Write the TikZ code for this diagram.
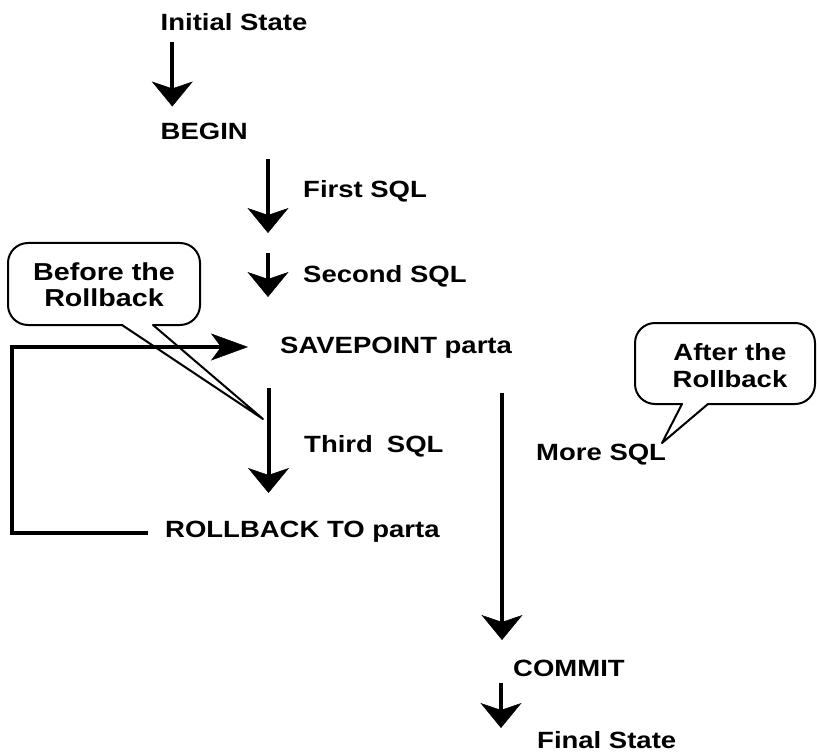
\documentclass[tikz,border=0pt]{standalone}
\usepackage{fontspec}
\newfontfamily\lbl{Liberation Sans}[FakeStretch=1.17]
\usetikzlibrary{arrows.meta}
\begin{document}
\begin{tikzpicture}[x=1pt,y=-1pt,
  lab/.style={anchor=base west,inner sep=0pt,font=\lbl\bfseries\fontsize{23.5}{27}\selectfont},
  ctext/.style={anchor=base,inner sep=0pt,align=center},
  varr/.style={line width=4pt,-{Stealth[length=25pt,width=41pt,inset=7pt,line width=0.5pt]}},
  harr/.style={line width=4pt,-{Stealth[length=37pt,width=27pt,inset=10pt,line width=0.5pt]}},
  loopline/.style={line width=4pt},
  callout/.style={line width=2pt,line join=round,line cap=round}]
\useasboundingbox (0,0) rectangle (817,754);
% labels
\node[lab] (init) at (160.5,31) {Initial State};
\node[lab] (begin) at (160.5,140) {BEGIN};
\node[lab] (first) at (303,198) {First SQL};
\node[lab] (second) at (303,283) {Second SQL};
\node[lab] (save) at (280,353) {SAVEPOINT parta};
\node[lab] (third) at (304,452.5) {Third\hspace*{14pt}SQL};
\node[lab] (rollback) at (165,537) {ROLLBACK TO parta};
\node[lab] (more) at (536,460) {More SQL};
\node[lab] (commit) at (513,676) {COMMIT};
\node[lab] (final) at (537,748) {Final State};
% arrow end points
\coordinate (a1s) at (172.3,41.7);  \coordinate (a1e) at (172.3,106.5);
\coordinate (a2s) at (268,159);     \coordinate (a2e) at (268,233);
\coordinate (a3s) at (268,253);     \coordinate (a3e) at (268,297);
\coordinate (a4s) at (268.5,388);   \coordinate (a4e) at (268.5,493);
\coordinate (a5s) at (502,393);     \coordinate (a5e) at (502,640);
\coordinate (a6s) at (501,683);     \coordinate (a6e) at (501,728);
\draw[varr] (a1s) -- (a1e);
\draw[varr] (a2s) -- (a2e);
\draw[varr] (a3s) -- (a3e);
\draw[varr] (a4s) -- (a4e);
\draw[varr] (a5s) -- (a5e);
\draw[varr] (a6s) -- (a6e);
% feedback loop
\coordinate (fbs) at (148,533);
\coordinate (fbe) at (248,347);
\draw[loopline] (fbs) -- (12,533) -- (12,347) -- (214,347);
\draw[harr] (200,347) -- (fbe);
% left callout
\coordinate (lcl) at (122,325);
\coordinate (lcr) at (153,325);
\coordinate (lct) at (263,419);
\draw[callout,rounded corners=20pt] (lcr) -- (200,325) -- (200,243) -- (8,243) -- (8,325) -- (lcl);
\draw[callout] (lcl) -- (lct) -- (lcr);
\node[ctext,font=\lbl\bfseries\fontsize{24.5}{29}\selectfont] (bef1) at (104,280) {Before the};
\node[ctext,font=\lbl\bfseries\fontsize{24.5}{29}\selectfont] (bef2) at (104,306) {Rollback};
% right callout
\coordinate (rcl) at (682,404);
\coordinate (rcr) at (708,404);
\coordinate (rct) at (662,443);
\draw[callout,rounded corners=20pt] (rcr) -- (815,404) -- (815,323) -- (635,323) -- (635,404) -- (rcl);
\draw[callout] (rcl) -- (rct) -- (rcr);
\node[ctext,font=\lbl\bfseries\fontsize{23.5}{27}\selectfont] (aft1) at (730,360) {After the};
\node[ctext,font=\lbl\bfseries\fontsize{23.5}{27}\selectfont] (aft2) at (730,387) {Rollback};
\end{tikzpicture}
\end{document}
